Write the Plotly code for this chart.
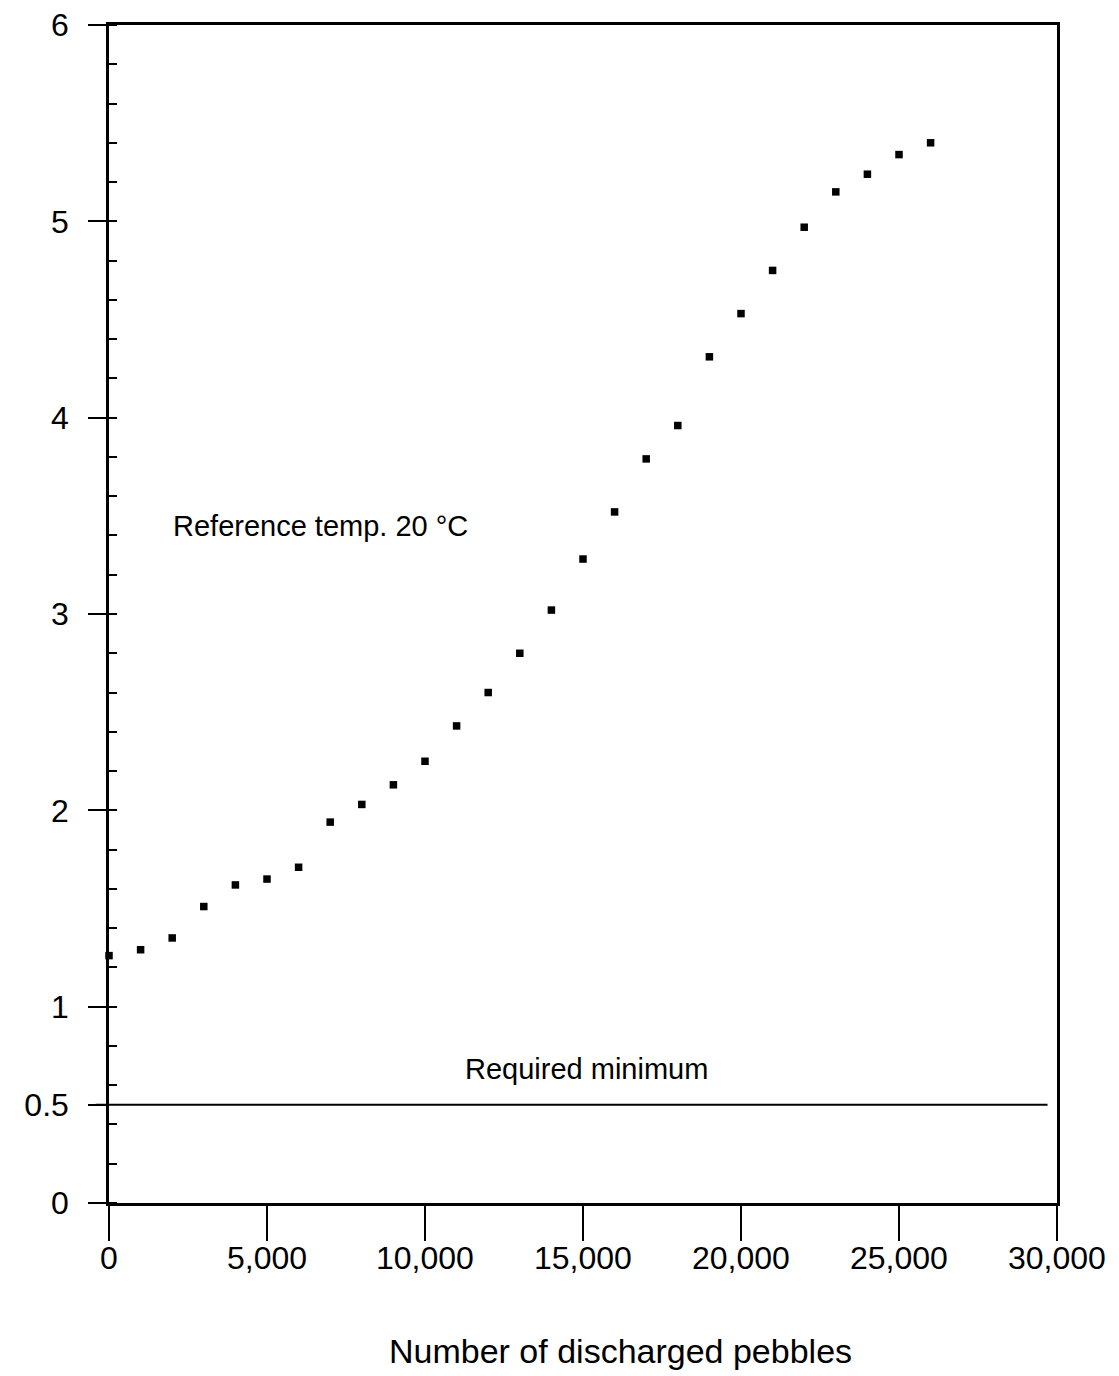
import plotly.graph_objects as go

# Data
pebbles = [0, 1000, 2000, 3000, 4000, 5000, 6000, 7000, 8000, 9000,
           10000, 11000, 12000, 13000, 14000, 15000, 16000, 17000, 18000,
           19000, 20000, 21000, 22000, 23000, 24000, 25000, 26000]
values = [1.26, 1.29, 1.35, 1.51, 1.62, 1.65, 1.71, 1.94, 2.03, 2.13,
          2.25, 2.43, 2.60, 2.80, 3.02, 3.28, 3.52, 3.79, 3.96,
          4.31, 4.53, 4.75, 4.97, 5.15, 5.24, 5.34, 5.40]

required_minimum = 0.5

x_tickvals = [0, 5000, 10000, 15000, 20000, 25000, 30000]
x_ticktext = ["0", "5,000", "10,000", "15,000", "20,000", "25,000", "30,000"]
y_tickvals = [0, 0.5, 1, 2, 3, 4, 5, 6]
y_ticktext = ["0", "0.5", "1", "2", "3", "4", "5", "6"]

FONT = "Liberation Sans, Arial, Helvetica, sans-serif"

fig = go.Figure()
fig.add_trace(go.Scatter(
    x=pebbles, y=values, mode="markers",
    marker=dict(symbol="square", size=7.5, color="black"),
    cliponaxis=False, showlegend=False, hoverinfo="x+y",
))

# Required minimum line
fig.add_shape(type="line", xref="paper", yref="y",
              x0=-0.014, x1=0.99, y0=required_minimum, y1=required_minimum,
              line=dict(color="black", width=2))

fig.add_annotation(x=15100, y=0.68, xref="x", yref="y", text="Required minimum",
                   showarrow=False, font=dict(family=FONT, size=29, color="black"))
fig.add_annotation(x=6700, y=3.45, xref="x", yref="y", text="Reference temp. 20 °C",
                   showarrow=False, font=dict(family=FONT, size=29, color="black"))
fig.add_annotation(x=0.54, y=0, xref="paper", yref="paper", yanchor="middle",
                   yshift=-148, text="Number of discharged pebbles",
                   showarrow=False, font=dict(family=FONT, size=34, color="black"))

# x tick labels placed close under the long ticks
for v, t in zip(x_tickvals, x_ticktext):
    fig.add_annotation(x=v, y=0, xref="x", yref="paper", yanchor="middle",
                       yshift=-55, text=t, showarrow=False,
                       font=dict(family=FONT, size=32, color="black"))

fig.update_layout(
    width=1119, height=1376,
    margin=dict(l=101, r=70, t=17, b=181, autoexpand=False),
    paper_bgcolor="white", plot_bgcolor="white",
    font=dict(family=FONT, size=32, color="black"),
    xaxis=dict(range=[0, 30000], tickvals=x_tickvals, ticktext=x_ticktext,
               showticklabels=False,
               showgrid=False, zeroline=False, showline=True, mirror=True,
               linecolor="black", linewidth=2.5,
               ticks="outside", ticklen=35, tickwidth=2, tickcolor="black"),
    yaxis=dict(range=[0, 6], tickvals=y_tickvals, ticktext=y_ticktext,
               showgrid=False, zeroline=False, showline=True, mirror=True,
               linecolor="black", linewidth=2.5,
               ticks="outside", ticklen=18, tickwidth=2, tickcolor="black",
               ticklabelstandoff=13, ticklabeloverflow="allow",
               tickfont=dict(family=FONT, size=32, color="black"),
               minor=dict(tickmode="linear", tick0=0, dtick=0.2, ticks="inside",
                          ticklen=8, tickwidth=1.5, tickcolor="black", showgrid=False)),
)

fig.write_html("out.html")
